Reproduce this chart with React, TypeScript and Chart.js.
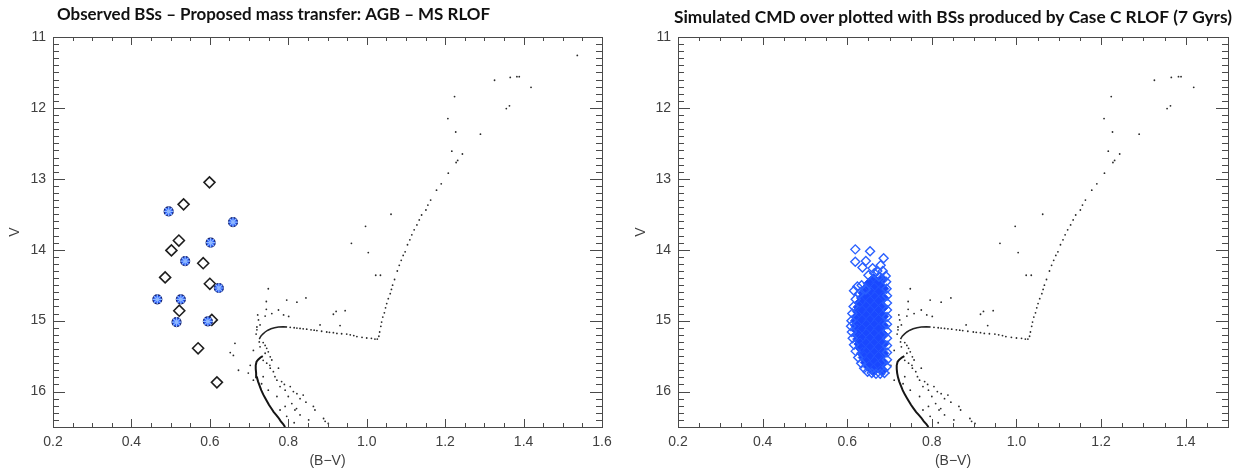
import React, { useEffect, useRef } from "react";
import { Chart, registerables } from "chart.js";

Chart.register(...registerables);

// ---------- text ----------
const TITLE_LEFT = "Observed BSs – Proposed mass transfer: AGB – MS RLOF";
const TITLE_RIGHT = "Simulated CMD over plotted with BSs produced by Case C RLOF (7 Gyrs)";
const X_LABEL = "(B−V)";
const Y_LABEL = "V";

// ---------- ticks ----------
const X_TICKS_LEFT = [0.2, 0.4, 0.6, 0.8, 1.0, 1.2, 1.4, 1.6];
const X_TICKS_RIGHT = [0.2, 0.4, 0.6, 0.8, 1.0, 1.2, 1.4];
const Y_TICKS = [11, 12, 13, 14, 15, 16];

// ---------- CMD (isochrone cluster stars) ----------
const MS_LINE: [number, number][] = [
  [0.792, 16.5], [0.787, 16.46], [0.781, 16.42], [0.775, 16.37], [0.769, 16.33], [0.763, 16.29],
  [0.757, 16.24], [0.751, 16.19], [0.746, 16.14], [0.741, 16.09], [0.736, 16.04], [0.731, 15.98],
  [0.727, 15.92], [0.723, 15.86], [0.72, 15.8], [0.718, 15.74], [0.717, 15.68], [0.717, 15.63],
  [0.719, 15.58], [0.723, 15.55], [0.729, 15.52], [0.735, 15.5],
];

const SGB_CURVE: [number, number][] = [
  [0.726, 15.26], [0.73, 15.22], [0.735, 15.19], [0.741, 15.16], [0.748, 15.135], [0.756, 15.115],
  [0.765, 15.1], [0.775, 15.09], [0.787, 15.085], [0.797, 15.09],
];

const SGB_DOTS: [number, number][] = [
  [0.805, 15.095], [0.815, 15.1], [0.822, 15.105], [0.83, 15.11], [0.838, 15.115], [0.847, 15.12],
  [0.858, 15.13], [0.866, 15.135], [0.873, 15.14], [0.885, 15.15], [0.898, 15.16], [0.905, 15.165],
  [0.915, 15.17], [0.924, 15.18], [0.936, 15.185], [0.949, 15.19], [0.958, 15.2], [0.967, 15.21],
  [0.975, 15.225], [0.988, 15.235], [1.0, 15.245], [1.012, 15.25], [1.021, 15.26], [1.027, 15.26],
];

const RGB_DOTS: [number, number][] = [
  [1.031, 15.22], [1.033, 15.16], [1.036, 15.08], [1.038, 15.02], [1.041, 14.95], [1.045, 14.89],
  [1.048, 14.82], [1.051, 14.76], [1.055, 14.69], [1.06, 14.62], [1.063, 14.56], [1.066, 14.5],
  [1.071, 14.42], [1.078, 14.3], [1.083, 14.22], [1.088, 14.15], [1.093, 14.08], [1.098, 14.03],
  [1.104, 13.93], [1.11, 13.86], [1.115, 13.79], [1.121, 13.72], [1.128, 13.65], [1.134, 13.58],
  [1.14, 13.51], [1.151, 13.44], [1.156, 13.37], [1.163, 13.3], [1.178, 13.16], [1.19, 13.07],
  [1.208, 12.92], [1.228, 12.77], [1.232, 12.74], [1.244, 12.65], [1.217, 12.61], [1.227, 12.34],
  [1.207, 12.15], [1.224, 11.84], [1.29, 12.37], [1.326, 11.61], [1.356, 12.01], [1.364, 11.97],
  [1.366, 11.57], [1.383, 11.56], [1.389, 11.56], [1.419, 11.71], [1.537, 11.26],
];

const FIELD_DOTS: [number, number][] = [
  [0.749, 14.55], [0.744, 14.73], [0.744, 14.84], [0.722, 14.92], [0.796, 14.71], [0.801, 14.94],
  [0.822, 14.74], [0.845, 14.68], [0.758, 14.9], [0.724, 14.99], [0.728, 15.06], [0.72, 15.13],
  [0.718, 15.19], [0.775, 14.85], [0.788, 14.92], [0.741, 14.935], [0.915, 14.91], [0.922, 14.87],
  [0.945, 14.86], [0.932, 15.07], [0.881, 15.06], [0.997, 13.67], [0.961, 13.91], [1.004, 14.04],
  [1.023, 14.36], [1.035, 14.36], [1.062, 13.5], [0.72, 15.09], [0.726, 15.3],
  [0.664, 15.32], [0.652, 15.45], [0.66, 15.49], [0.673, 15.7], [0.698, 15.74], [0.703, 15.63],
  [0.711, 15.42], [0.728, 15.37], [0.711, 15.84],
  [0.736, 15.31], [0.741, 15.35], [0.745, 15.39], [0.749, 15.44], [0.741, 15.46], [0.754, 15.51],
  [0.758, 15.555], [0.745, 15.6], [0.754, 15.67], [0.762, 15.72], [0.775, 15.67], [0.766, 15.79],
  [0.783, 15.86], [0.779, 15.93], [0.792, 15.98], [0.805, 15.93], [0.813, 16.0], [0.8, 16.07],
  [0.822, 16.03], [0.83, 16.1], [0.809, 16.17], [0.792, 16.21], [0.817, 16.26], [0.83, 16.33],
  [0.864, 16.21], [0.868, 16.26], [0.89, 16.38], [0.894, 16.42], [0.902, 16.45], [0.771, 16.07],
  [0.749, 15.98], [0.779, 16.26], [0.796, 16.35], [0.736, 15.56], [0.753, 15.63], [0.736, 15.79],
  [0.771, 15.84], [0.79, 15.9], [0.838, 16.05], [0.821, 16.24], [0.732, 15.89], [0.845, 16.15],
  [0.852, 16.4], [0.815, 16.44],
];

// ---------- observed blue stragglers (left panel) ----------
const OBS_BS_OPEN: [number, number][] = [
  [0.599, 13.05], [0.533, 13.36], [0.521, 13.87], [0.502, 14.01], [0.583, 14.19], [0.486, 14.39],
  [0.6, 14.48], [0.522, 14.86], [0.605, 14.99], [0.57, 15.39], [0.618, 15.87],
];
const OBS_BS_PROPOSED: [number, number][] = [
  [0.495, 13.46], [0.659, 13.61], [0.602, 13.9], [0.537, 14.16], [0.623, 14.54], [0.466, 14.7],
  [0.526, 14.7], [0.515, 15.02], [0.595, 15.01],
];

// ---------- simulated blue stragglers (right panel) ----------
const SIM_BS_SPARSE: [number, number][] = [
  [0.619, 13.995], [0.654, 14.02], [0.619, 14.17], [0.644, 14.16], [0.686, 14.12], [0.636, 14.25],
  [0.66, 14.26], [0.671, 14.3], [0.679, 14.22], [0.691, 14.37], [0.65, 14.36], [0.675, 14.38],
  [0.624, 14.52], [0.634, 14.5], [0.616, 14.58], [0.644, 14.56], [0.628, 14.62], [0.664, 14.33],
  [0.684, 14.3], [0.692, 14.45],
  [0.62, 14.7], [0.615, 14.8], [0.612, 14.9], [0.61, 15.0], [0.609, 15.08], [0.611, 15.16],
  [0.613, 15.25], [0.616, 15.34], [0.62, 15.43], [0.626, 15.52], [0.633, 15.6], [0.64, 15.67],
  [0.648, 15.72], [0.658, 15.74], [0.668, 15.75], [0.678, 15.75], [0.688, 15.74],
  [0.693, 15.65], [0.694, 15.55], [0.694, 15.45], [0.694, 15.35], [0.694, 15.25], [0.694, 15.15],
  [0.694, 15.05], [0.694, 14.95], [0.694, 14.85], [0.694, 14.75], [0.694, 14.65], [0.693, 14.55],
];
const SIM_BS_CORE: [number, number][] = [
  [0.662, 14.42], [0.682, 14.42],
  [0.652, 14.48], [0.672, 14.48],
  [0.645, 14.55], [0.664, 14.55], [0.684, 14.55],
  [0.64, 14.61], [0.656, 14.61], [0.674, 14.61],
  [0.636, 14.68], [0.646, 14.68], [0.665, 14.68], [0.684, 14.68],
  [0.632, 14.74], [0.654, 14.74], [0.674, 14.74],
  [0.628, 14.81], [0.645, 14.81], [0.664, 14.81], [0.684, 14.81],
  [0.626, 14.87], [0.635, 14.87], [0.654, 14.87], [0.674, 14.87],
  [0.624, 14.94], [0.645, 14.94], [0.664, 14.94], [0.684, 14.94],
  [0.622, 15.0], [0.635, 15.0], [0.654, 15.0], [0.674, 15.0],
  [0.622, 15.07], [0.645, 15.07], [0.664, 15.07], [0.684, 15.07],
  [0.623, 15.13], [0.635, 15.13], [0.654, 15.13], [0.674, 15.13],
  [0.625, 15.2], [0.645, 15.2], [0.664, 15.2], [0.684, 15.2],
  [0.627, 15.26], [0.635, 15.26], [0.654, 15.26], [0.674, 15.26],
  [0.63, 15.33], [0.645, 15.33], [0.664, 15.33], [0.684, 15.33],
  [0.633, 15.39], [0.654, 15.39], [0.674, 15.39],
  [0.636, 15.46], [0.645, 15.46], [0.664, 15.46], [0.684, 15.46],
  [0.64, 15.52], [0.654, 15.52], [0.674, 15.52],
  [0.645, 15.59], [0.664, 15.59], [0.684, 15.59],
  [0.652, 15.65], [0.672, 15.65],
  [0.662, 15.7], [0.682, 15.7],
];

const pts = (a: [number, number][]) => a.map(([x, y]) => ({ x, y }));

const TICK_FONT = { family: "'Liberation Sans', Arial, sans-serif", size: 14 };
const TICK_COLOR = "#404040";

function idlAxes(cfg: { xMinor: number; xMajor: number; yMinor: number; yMajor: number }) {
  return {
    id: "idlAxes",
    afterDatasetsDraw(chart: any) {
      const { ctx, chartArea, scales } = chart;
      const { left, right, top, bottom } = chartArea;
      const x = scales.x;
      const y = scales.y;
      ctx.save();
      ctx.strokeStyle = "#4a4a4a";
      ctx.lineWidth = 1;
      ctx.strokeRect(left + 0.5, top + 0.5, right - left, bottom - top);
      ctx.beginPath();
      const nx = Math.round((x.max - x.min) / cfg.xMinor);
      for (let i = 0; i <= nx; i++) {
        const v = x.min + i * cfg.xMinor;
        const major = Math.abs(v / cfg.xMajor - Math.round(v / cfg.xMajor)) < 1e-6;
        const len = major ? 8 : 4;
        const px = Math.round(x.getPixelForValue(v)) + 0.5;
        ctx.moveTo(px, bottom);
        ctx.lineTo(px, bottom - len);
        ctx.moveTo(px, top);
        ctx.lineTo(px, top + len);
      }
      const ny = Math.round((y.max - y.min) / cfg.yMinor);
      for (let i = 0; i <= ny; i++) {
        const v = y.min + i * cfg.yMinor;
        const major = Math.abs(v / cfg.yMajor - Math.round(v / cfg.yMajor)) < 1e-6;
        const len = major ? 12 : 6;
        const py = Math.round(y.getPixelForValue(v)) + 0.5;
        ctx.moveTo(left, py);
        ctx.lineTo(left + len, py);
        ctx.moveTo(right, py);
        ctx.lineTo(right - len, py);
      }
      ctx.stroke();
      ctx.restore();
    },
  };
}

function panelTitle(cfg: { text: string; x: number; y: number; width: number; size: number; weight: string }) {
  return {
    id: "panelTitle",
    afterDraw(chart: any) {
      const ctx = chart.ctx;
      ctx.save();
      ctx.font = `${cfg.weight} ${cfg.size}px Lato, 'Open Sans', sans-serif`;
      const w = ctx.measureText(cfg.text).width;
      ctx.translate(cfg.x, cfg.y);
      ctx.scale(cfg.width / w, 1);
      ctx.fillStyle = "#111";
      ctx.textAlign = "left";
      ctx.textBaseline = "middle";
      ctx.fillText(cfg.text, 0, 0);
      ctx.restore();
    },
  };
}

function makeConfig(side: "left" | "right") {
  const isLeft = side === "left";
  const xTicks = isLeft ? X_TICKS_LEFT : X_TICKS_RIGHT;
  const datasets: any[] = [];
  if (isLeft) {
    datasets.push(
      {
        label: "proposed-star",
        data: pts(OBS_BS_PROPOSED),
        pointStyle: "star",
        pointRadius: 5,
        borderColor: "#8fb8ff",
        borderWidth: 1.2,
        backgroundColor: "rgba(0,0,0,0)",
      },
      {
        label: "Observed BSs (proposed AGB–MS RLOF)",
        data: pts(OBS_BS_PROPOSED),
        pointStyle: "circle",
        pointRadius: 4.5,
        backgroundColor: "#1f55ff",
        borderColor: "#16206a",
        borderWidth: 1.2,
      },
      {
        label: "Observed BSs",
        data: pts(OBS_BS_OPEN),
        pointStyle: "rectRot",
        pointRadius: 5.5,
        backgroundColor: "rgba(0,0,0,0)",
        borderColor: "#1e1e1e",
        borderWidth: 1.6,
      }
    );
  } else {
    datasets.push(
      {
        label: "Simulated BSs",
        data: pts(SIM_BS_SPARSE),
        pointStyle: "rectRot",
        pointRadius: 4.5,
        backgroundColor: "rgba(0,0,0,0)",
        borderColor: "#2a60ff",
        borderWidth: 1.4,
      },
      {
        label: "Simulated BSs core",
        data: pts(SIM_BS_CORE),
        pointStyle: "rectRot",
        pointRadius: 6,
        backgroundColor: "#1a48ff",
        borderColor: "#2456ff",
        borderWidth: 1,
      }
    );
  }
  datasets.push(
    {
      label: "MS",
      data: pts(MS_LINE),
      showLine: true,
      borderColor: "#151515",
      borderWidth: 2,
      pointRadius: 0,
      tension: 0,
    },
    {
      label: "SGB",
      data: pts(SGB_CURVE),
      showLine: true,
      borderColor: "#222",
      borderWidth: 1.5,
      pointRadius: 0,
      tension: 0,
    },
    {
      label: "CMD stars",
      data: pts([...SGB_DOTS, ...RGB_DOTS, ...FIELD_DOTS]),
      pointStyle: "circle",
      pointRadius: 0.9,
      backgroundColor: "#2a2a2a",
      borderWidth: 0,
    }
  );

  return {
    type: "scatter" as const,
    data: { datasets },
    options: {
      animation: false,
      responsive: false,
      maintainAspectRatio: false,
      layout: { padding: { top: 37, right: isLeft ? 18 : 12, bottom: 0, left: 0 } },
      plugins: {
        legend: { display: false },
        tooltip: { enabled: false },
        title: { display: false },
      },
      scales: {
        x: {
          type: "linear",
          min: 0.2,
          max: isLeft ? 1.6 : 1.5,
          grid: { display: false, drawTicks: false },
          border: { display: false },
          afterBuildTicks: (s: any) => {
            s.ticks = xTicks.map((v) => ({ value: v }));
          },
          ticks: {
            autoSkip: false,
            maxRotation: 0,
            padding: 7,
            font: TICK_FONT,
            color: TICK_COLOR,
            callback: (v: any) => Number(v).toFixed(1),
          },
          title: {
            display: true,
            text: X_LABEL,
            font: TICK_FONT,
            color: TICK_COLOR,
            padding: { top: 0, bottom: 0 },
          },
          afterFit: (s: any) => {
            s.height = 43;
          },
        },
        y: {
          type: "linear",
          min: 11,
          max: 16.5,
          reverse: true,
          grid: { display: false, drawTicks: false },
          border: { display: false },
          afterBuildTicks: (s: any) => {
            s.ticks = Y_TICKS.map((v) => ({ value: v }));
          },
          ticks: {
            autoSkip: false,
            padding: 7,
            font: TICK_FONT,
            color: TICK_COLOR,
            callback: (v: any) => String(v),
          },
          title: {
            display: true,
            text: Y_LABEL,
            font: TICK_FONT,
            color: TICK_COLOR,
            padding: { top: isLeft ? 7 : 13, bottom: 0 },
          },
          afterFit: (s: any) => {
            s.width = isLeft ? 53 : 58;
          },
        },
      },
    },
    plugins: [
      idlAxes({ xMinor: 0.05, xMajor: 0.2, yMinor: 0.1, yMajor: 1 }),
      isLeft
        ? panelTitle({ text: TITLE_LEFT, x: 57, y: 15, width: 433, size: 17, weight: "bold" })
        : panelTitle({ text: TITLE_RIGHT, x: 54, y: 18, width: 558, size: 17, weight: "bold" }),
    ],
  };
}

export default function App() {
  const leftRef = useRef<HTMLCanvasElement>(null);
  const rightRef = useRef<HTMLCanvasElement>(null);

  useEffect(() => {
    const charts: Chart[] = [];
    if (leftRef.current) charts.push(new Chart(leftRef.current, makeConfig("left") as any));
    if (rightRef.current) charts.push(new Chart(rightRef.current, makeConfig("right") as any));
    return () => charts.forEach((c) => c.destroy());
  }, []);

  return (
    <div style={{ position: "absolute", left: 0, top: 0, width: 1240, height: 470, background: "#fff" }}>
      <canvas ref={leftRef} width={620} height={470} style={{ position: "absolute", left: 0, top: 0 }} />
      <canvas ref={rightRef} width={620} height={470} style={{ position: "absolute", left: 620, top: 0 }} />
    </div>
  );
}
